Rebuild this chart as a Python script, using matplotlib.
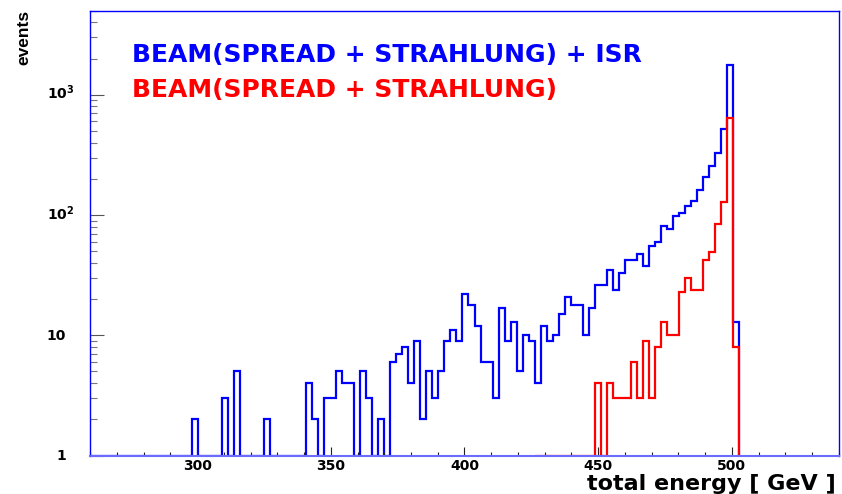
import numpy as np
import matplotlib
matplotlib.use('Agg')
import matplotlib.pyplot as plt
from matplotlib.ticker import MultipleLocator, LogLocator, NullFormatter

# histogram binning (GeV)
bin_lo = 259.75
bin_w = 2.25

# BEAM(SPREAD + STRAHLUNG) + ISR  -- counts per bin, starting at bin_lo
blue_counts = [0] * 17 + [
    2, 0, 0, 0, 0, 3, 0, 5, 0, 0,
    0, 0, 2, 0, 0, 0, 0, 0, 0, 4,
    2, 0, 3, 3, 5, 4, 4, 0, 5, 3,
    0, 2, 0, 6, 7, 8, 4, 9, 2, 5,
    3, 5, 9, 11, 9, 22, 18, 12, 6, 6,
    3, 17, 9, 13, 5, 10, 9, 4, 12, 9,
    10, 15, 21, 18, 18, 10, 17, 26, 26, 35,
    24, 33, 42, 42, 47, 38, 55, 60, 81, 76,
    99, 103, 118, 131, 161, 208, 256, 326, 520, 1770,
    13]

# BEAM(SPREAD + STRAHLUNG)  -- counts per bin, starting at red_lo
red_lo = 426.25
red_counts = [0] * 10 + [
    4, 0, 4, 3, 3, 3, 6, 3, 9, 3,
    8, 13, 10, 10, 23, 30, 24, 24, 42, 49,
    84, 128, 635, 8]

x_range = (260, 540)
y_range = (1, 5000)
y_ticks = [1, 10, 100, 1000]
y_ticklabels = ['1', '10', r'$\mathbf{10^{2}}$', r'$\mathbf{10^{3}}$']

blue_edges = bin_lo + bin_w * np.arange(len(blue_counts) + 1)
red_edges = red_lo + bin_w * np.arange(len(red_counts) + 1)

fig = plt.figure(figsize=(8.42, 4.94), dpi=100)
ax = fig.add_axes([0.1072, 0.0779, 0.8889, 0.9004])

# empty bins are drawn on the axis floor, like the original
ax.stairs(np.clip(blue_counts, 1, None), blue_edges, baseline=1,
          color='#0000ff', linewidth=1.6)
ax.stairs(np.clip(red_counts, 1, None), red_edges, baseline=1,
          color='#ff0000', linewidth=1.6)

ax.set_yscale('log')
ax.set_xlim(*x_range)
ax.set_ylim(*y_range)

for side in ['left', 'top', 'right']:
    ax.spines[side].set_color('#0000ff')
    ax.spines[side].set_linewidth(1.0)
ax.spines['bottom'].set_color('#6b6bff')
ax.spines['bottom'].set_linewidth(1.5)

# x axis
ax.xaxis.set_major_locator(MultipleLocator(50))
ax.xaxis.set_minor_locator(MultipleLocator(10))
ax.tick_params(axis='x', which='major', direction='in', length=6.3, width=0.8,
               color='#222222', pad=2.5, labelsize=10)
ax.tick_params(axis='x', which='minor', direction='in', length=3.1, width=0.8,
               color='#222222')
for lab in ax.get_xticklabels():
    lab.set_fontweight('bold')

# y axis: ticks from the log scale, labels placed by hand
ax.yaxis.set_major_locator(LogLocator(base=10, numticks=10))
ax.yaxis.set_minor_locator(LogLocator(base=10, subs=np.arange(2, 10), numticks=20))
ax.yaxis.set_major_formatter(NullFormatter())
ax.yaxis.set_minor_formatter(NullFormatter())
ax.tick_params(axis='y', which='major', direction='in', length=10.3, width=0.8,
               color='#555555')
ax.tick_params(axis='y', which='minor', direction='in', length=5, width=0.8,
               color='#777777')
for val, txt in zip(y_ticks, y_ticklabels):
    if val == 1:
        dx, ha = -17.5, 'right'
    else:
        dx, ha = -31.2, 'left'
    ax.annotate(txt, xy=(0, val), xycoords=('axes fraction', 'data'),
                xytext=(dx, -3.3), textcoords='offset points',
                ha=ha, va='baseline', fontsize=10, fontweight='bold')

# titles and labels
fig.text(0.0288, 0.979, 'events', rotation=90, ha='center', va='top',
         fontsize=12.5, fontweight='bold', family=['Liberation Sans', 'DejaVu Sans'])
fig.text(0.992, 0.0091, 'total energy [ GeV ]', ha='right', va='baseline',
         fontsize=16, fontweight='bold')

fig.text(0.157, 0.8751, 'BEAM(SPREAD + STRAHLUNG) + ISR', color='#0000ff',
         ha='left', va='baseline', fontsize=18, fontweight='bold')
fig.text(0.157, 0.8043, 'BEAM(SPREAD + STRAHLUNG)', color='#ff0000',
         ha='left', va='baseline', fontsize=18, fontweight='bold')

fig.savefig('out.png', dpi=100)
